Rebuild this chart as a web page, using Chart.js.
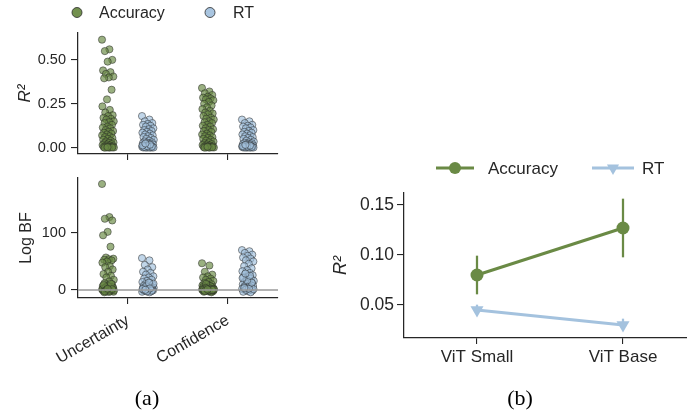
<!DOCTYPE html>
<html><head><meta charset="utf-8">
<script src="https://cdn.jsdelivr.net/npm/chart.js@4.4.0/dist/chart.umd.min.js"></script>
<style>
html,body{margin:0;padding:0;background:#fff;width:687px;height:414px;overflow:hidden;position:relative}
canvas{position:absolute;left:0;top:0}
.cap{position:absolute;font-family:"Liberation Serif","Times New Roman",serif;font-size:22px;line-height:22px;color:#000;transform:translateX(-50%);white-space:nowrap}
</style></head>
<body>
<canvas id="c1" width="687" height="414"></canvas>
<canvas id="c2" width="687" height="414"></canvas>
<canvas id="c3" width="740" height="414"></canvas>
<div class="cap" style="left:147px;top:387px">(a)</div>
<div class="cap" style="left:520px;top:387px">(b)</div>
<script>
// ---------------- data ----------------
const categories = ['Uncertainty', 'Confidence'];
const seriesNames = ['Accuracy', 'RT'];

const r2UncAcc = [0.615,0.560,0.550,0.500,0.490,0.440,0.430,0.420,0.405,0.400,0.395,0.330,0.275,0.235,0.215,0.200,0.185,0.180,0.170,0.165,0.160,0.150,0.145,0.140,0.130,0.120,0.115,0.110,0.100,0.095,0.090,0.085,0.080,0.075,0.070,0.065,0.060,0.055,0.050,0.045,0.040,0.035,0.030,0.028,0.025,0.020,0.018,0.015,0.012,0.010,0.008,0.005,0.004,0.003,0.002,0.001,0.000,0.000,0.001,0.003];
const r2UncRT = [0.180,0.160,0.150,0.140,0.135,0.130,0.125,0.120,0.110,0.105,0.100,0.095,0.090,0.085,0.080,0.075,0.070,0.065,0.060,0.055,0.050,0.045,0.040,0.035,0.030,0.028,0.025,0.022,0.020,0.018,0.015,0.012,0.010,0.008,0.006,0.005,0.004,0.003,0.002,0.001,0.000,0.000,0.001,0.002,0.004,0.006,0.009,0.013,0.017,0.024];
const r2ConfAcc = [0.340,0.320,0.310,0.300,0.290,0.285,0.280,0.275,0.270,0.260,0.250,0.240,0.230,0.220,0.210,0.200,0.195,0.190,0.180,0.170,0.165,0.160,0.150,0.145,0.140,0.130,0.125,0.120,0.110,0.105,0.100,0.095,0.090,0.080,0.075,0.070,0.065,0.060,0.055,0.050,0.045,0.040,0.035,0.030,0.025,0.020,0.018,0.015,0.012,0.010,0.008,0.006,0.004,0.003,0.002,0.001,0.000,0.000,0.002,0.005];
const r2ConfRT = [0.160,0.150,0.140,0.130,0.125,0.120,0.115,0.110,0.100,0.095,0.090,0.085,0.080,0.075,0.070,0.065,0.060,0.055,0.050,0.045,0.040,0.035,0.030,0.028,0.025,0.022,0.020,0.018,0.015,0.013,0.011,0.010,0.008,0.007,0.006,0.005,0.004,0.003,0.002,0.001,0.000,0.000,0.001,0.002,0.003,0.005,0.007,0.009,0.012,0.016];

const bfUncAcc = [186,128,125,122,102,96,76,57,55,54,53,52,50,48,42,40,36,32,28,25,22,18,15,12,10,8,7,6,5,4,3,2.5,2,1.5,1,0.5,0,-0.5,-1,-1.5,-2,-2.5,-3,-3.5,-4,0.2,0.8,1.2,1.8,3.5,4.5,6.5,9,11,0.3,-0.8,-1.2,-2.2,1.6,2.2];
const bfUncRT = [56,52,44,40,36,32,30,27,24,22,20,18,16,14,12,10,9,8,7,6,5,4,3,2.5,2,1.5,1,0.5,0,-0.5,-1,-1.5,-2,-2.5,-3,-4,0.2,0.7,1.2,3.5,4.5,6.5,11,13,-0.3,-1.2,-2.2,1.8,2.8,0.4];
const bfConfAcc = [47,43,32,27,24,22,20,18,16,14,12,10,9,8,7,6,5,4,3.5,3,2.5,2,1.5,1,0.5,0,-0.5,-1,-1.5,-2,-2.5,-3,-4,0.2,0.7,1.2,1.8,2.2,4.5,5.5,6.5,11,-0.3,-0.8,-1.2,-2.2,0.4,1.4,2.8,3.8,0.1,-0.1,0.6,1.6,2.4,0.9,-0.6,-1.8,0.3,1.1];
const bfConfRT = [70,68,65,62,60,57,55,52,50,46,42,38,35,33,30,28,26,24,22,20,18,16,15,14,12,11,10,9,8,7,6,5,4,3,2,1,0,-1,-2,-3,-4,0.5,1.5,2.5,3.5,13,17,21,25,29];

const models = ['ViT Small', 'ViT Base'];
const meanAcc = [0.080, 0.127];
const ciAccLow = [0.061, 0.098];
const ciAccHigh = [0.099, 0.156];
const meanRT = [0.045, 0.030];
const ciRTLow = [0.041, 0.026];
const ciRTHigh = [0.050, 0.036];

const r2Ticks = [0, 0.25, 0.5];
const bfTicks = [0, 100];
const vitTicks = [0.05, 0.10, 0.15];

// ---------------- style ----------------
const FONT = "'Liberation Sans', Arial, sans-serif";
const DARK = '#262626';
const GREEN = '#6a8a45';
const BLUE = '#a4c2de';
const ACC_FILL = 'rgba(106,138,69,0.68)';
const RT_FILL = 'rgba(164,194,222,0.68)';
const EDGE = 'rgba(35,35,35,0.7)';
Chart.defaults.font.family = FONT;
Chart.defaults.color = DARK;

function jitter(i) { return (((i * 0.6180339887) % 1) - 0.5) * 0.12; }

const manualLegend = {
  id: 'manualLegend',
  afterDraw(chart, args, opts) {
    if (!opts || !opts.items) return;
    const ctx = chart.ctx;
    ctx.save();
    opts.items.forEach(it => {
      const y = opts.y;
      if (it.line) {
        ctx.strokeStyle = it.color; ctx.lineWidth = 3; ctx.lineCap = 'butt';
        ctx.beginPath(); ctx.moveTo(it.line[0], y); ctx.lineTo(it.line[1], y); ctx.stroke();
      }
      ctx.fillStyle = it.color;
      ctx.strokeStyle = it.edge || it.color;
      ctx.lineWidth = it.edgeWidth || 0;
      ctx.beginPath();
      if (it.marker === 'tri') {
        const r = it.r;
        ctx.moveTo(it.mx - r * 0.866, y - r * 0.5);
        ctx.lineTo(it.mx + r * 0.866, y - r * 0.5);
        ctx.lineTo(it.mx, y + r);
        ctx.closePath();
      } else {
        ctx.arc(it.mx, y, it.r, 0, Math.PI * 2);
      }
      ctx.fill();
      if (it.edgeWidth) ctx.stroke();
      ctx.fillStyle = DARK;
      ctx.font = opts.fontSize + 'px ' + FONT;
      ctx.textBaseline = 'middle';
      ctx.textAlign = 'left';
      ctx.fillText(it.text, it.tx, y + 1);
    });
    ctx.restore();
  }
};

function yScale(min, max, tickVals, fmt, title, o) {
  return {
    type: 'linear', position: 'left', min, max, bounds: 'data',
    afterBuildTicks: s => { s.ticks = tickVals.map(v => ({ value: v })); },
    afterFit: s => { s.width = o.width; },
    ticks: { callback: v => fmt(v), color: DARK, font: { family: FONT, size: o.tickSize }, padding: o.tickPad },
    grid: { display: true, drawOnChartArea: false, drawTicks: true, tickLength: o.tickLen, color: DARK, lineWidth: 1.1 },
    border: { display: true, color: DARK, width: 1.25 },
    title: { display: true, text: title, color: DARK,
      font: { family: FONT, size: o.titleSize, style: o.italic ? 'italic' : 'normal', lineHeight: 1.2 },
      padding: { top: o.titlePad, bottom: 0 } }
  };
}

function stripX(showLabels, height) {
  return {
    type: 'linear', position: 'bottom', min: -0.5, max: 1.5, bounds: 'data',
    afterBuildTicks: s => { s.ticks = categories.map((c, i) => ({ value: i })); },
    afterFit: s => { s.height = height; },
    ticks: { display: showLabels, callback: v => categories[v], minRotation: 30, maxRotation: 30,
      color: DARK, font: { family: FONT, size: 16 }, padding: 7 },
    grid: { display: true, drawOnChartArea: false, drawTicks: true, tickLength: 6, color: DARK, lineWidth: 1.1 },
    border: { display: true, color: DARK, width: 1.25 }
  };
}

function stripDs(label, values, center, fill) {
  return {
    type: 'scatter', label,
    data: values.map((v, i) => ({ x: center + jitter(i), y: v })),
    pointRadius: 3.6, pointHoverRadius: 3.6,
    pointBackgroundColor: fill, pointBorderColor: EDGE, pointBorderWidth: 0.7,
    order: 2
  };
}

const common = {
  responsive: false, animation: false, events: [],
  plugins: { legend: { display: false }, tooltip: { enabled: false } }
};

// ---------------- (a) top: R^2 ----------------
new Chart(document.getElementById('c1'), {
  type: 'scatter',
  data: { datasets: [
    stripDs(seriesNames[0], r2UncAcc, -0.2, ACC_FILL),
    stripDs(seriesNames[1], r2UncRT, 0.2, RT_FILL),
    stripDs(seriesNames[0], r2ConfAcc, 0.8, ACC_FILL),
    stripDs(seriesNames[1], r2ConfRT, 1.2, RT_FILL)
  ] },
  options: Object.assign({}, common, {
    layout: { padding: { left: 8, right: 687 - 278, top: 33, bottom: 414 - 154 - 20 } },
    scales: {
      x: stripX(false, 20),
      y: yScale(-0.036, 0.653, r2Ticks, v => v.toFixed(2), 'R²',
        { width: 70, tickSize: 14.5, tickPad: 5, tickLen: 7, titleSize: 17, italic: true, titlePad: 7 })
    },
    plugins: Object.assign({}, common.plugins, {
      manualLegend: { y: 12.5, fontSize: 16, items: [
        { text: seriesNames[0], color: 'rgba(106,138,69,0.95)', edge: '#2a2a2a', edgeWidth: 0.8, r: 5, mx: 77, tx: 99 },
        { text: seriesNames[1], color: 'rgba(164,194,222,0.95)', edge: '#2a2a2a', edgeWidth: 0.8, r: 5, mx: 210, tx: 233 }
      ] }
    })
  }),
  plugins: [manualLegend]
});

// ---------------- (a) bottom: Log BF ----------------
new Chart(document.getElementById('c2'), {
  type: 'scatter',
  data: { datasets: [
    { type: 'line', label: 'zero', data: [{ x: -0.5, y: 0 }, { x: 1.5, y: 0 }], borderColor: '#9a9a9a', borderWidth: 1.5, pointRadius: 0, order: 0 },
    stripDs(seriesNames[0], bfUncAcc, -0.2, ACC_FILL),
    stripDs(seriesNames[1], bfUncRT, 0.2, RT_FILL),
    stripDs(seriesNames[0], bfConfAcc, 0.8, ACC_FILL),
    stripDs(seriesNames[1], bfConfRT, 1.2, RT_FILL)
  ] },
  options: Object.assign({}, common, {
    layout: { padding: { left: 8, right: 687 - 278, top: 178, bottom: 414 - 298 - 80 } },
    scales: {
      x: stripX(true, 80),
      y: yScale(-14, 196.5, bfTicks, v => String(v), 'Log BF',
        { width: 70, tickSize: 14.5, tickPad: 5, tickLen: 7, titleSize: 16, italic: false, titlePad: 9 })
    }
  })
});

// ---------------- (b) point plot ----------------
new Chart(document.getElementById('c3'), {
  data: {
    labels: models,
    datasets: [
      { type: 'line', label: seriesNames[0], data: meanAcc, borderColor: GREEN, borderWidth: 3,
        pointRadius: 6.5, pointHoverRadius: 6.5, pointBackgroundColor: GREEN, pointBorderColor: GREEN, pointBorderWidth: 0, order: 1 },
      { type: 'line', label: seriesNames[1], data: meanRT, borderColor: BLUE, borderWidth: 3,
        pointStyle: 'triangle', pointRotation: 180, pointRadius: 7.5, pointHoverRadius: 7.5,
        pointBackgroundColor: BLUE, pointBorderColor: BLUE, pointBorderWidth: 0, order: 1 },
      { type: 'bar', label: seriesNames[0] + ' CI', data: models.map((m, i) => [ciAccLow[i], ciAccHigh[i]]),
        backgroundColor: GREEN, borderWidth: 0, barThickness: 1.6, grouped: false, order: 2 },
      { type: 'bar', label: seriesNames[1] + ' CI', data: models.map((m, i) => [ciRTLow[i], ciRTHigh[i]]),
        backgroundColor: BLUE, borderWidth: 0, barThickness: 1.6, grouped: false, order: 2 }
    ]
  },
  options: Object.assign({}, common, {
    layout: { padding: { left: 404 - 90, right: 740 - 696, top: 193, bottom: 414 - 338 - 40 } },
    scales: {
      x: {
        type: 'category', position: 'bottom', offset: true,
        afterFit: s => { s.height = 40; },
        ticks: { color: DARK, font: { family: FONT, size: 17 }, padding: 3, maxRotation: 0, minRotation: 0 },
        grid: { display: true, offset: false, drawOnChartArea: false, drawTicks: true, tickLength: 6, color: DARK, lineWidth: 1.1 },
        border: { display: true, color: DARK, width: 1.25 }
      },
      y: yScale(0.017, 0.162, vitTicks, v => v.toFixed(2), 'R²',
        { width: 90, tickSize: 17.5, tickPad: 3, tickLen: 7, titleSize: 18, italic: true, titlePad: 16 })
    },
    plugins: Object.assign({}, common.plugins, {
      manualLegend: { y: 168, fontSize: 17, items: [
        { text: seriesNames[0], color: GREEN, line: [436, 474], r: 6, mx: 455, tx: 488 },
        { text: seriesNames[1], color: BLUE, line: [592, 634], r: 7, mx: 613, tx: 642, marker: 'tri' }
      ] }
    })
  }),
  plugins: [manualLegend]
});
</script>
</body></html>
